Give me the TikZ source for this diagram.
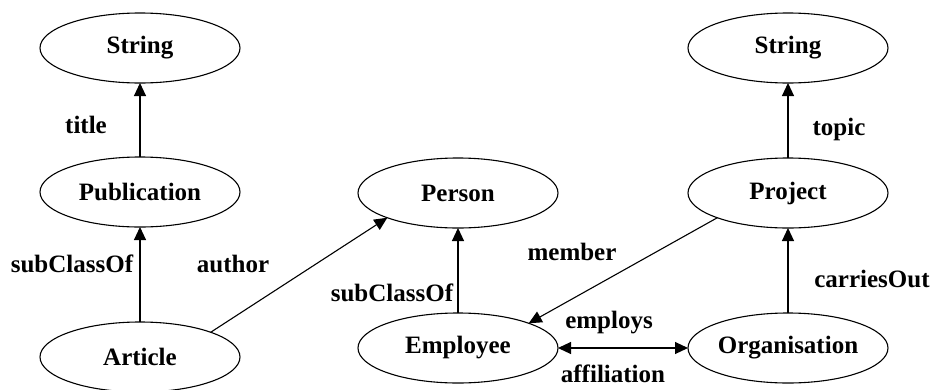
\documentclass[tikz,border=0pt]{standalone}
\usepackage{fontspec}
\setmainfont{Liberation Serif}
\usetikzlibrary{arrows.meta,shapes.geometric}
\begin{document}
\begin{tikzpicture}[x=1pt,y=-1pt,
  cls/.style={ellipse,draw,line width=1.1pt,minimum width=200pt,minimum height=70pt,
    inner sep=0pt,outer sep=0pt,font=\fontsize{25}{29}\selectfont\bfseries},
  lbl/.style={font=\fontsize{25}{29}\selectfont\bfseries,inner sep=0pt,anchor=base},
  rel/.style={line width=1.1pt,-{Triangle[length=13pt,width=12pt]}},
  birel/.style={line width=1.1pt,{Triangle[length=13pt,width=12pt]}-{Triangle[length=13pt,width=12pt]}}]
\useasboundingbox[fill=white] (0,0) rectangle (935,389);

% classes
\node[cls] (str1) at (140,48) {String};
\node[cls] (pub) at (140,192) {Publication};
\node[cls] (art) at (140,357) {Article};
\node[cls] (per) at (458,193) {Person};
\node[cls] (emp) at (458,348) {Employee};
\node[cls] (str2) at (788,48) {String};
\node[cls] (prj) at (788,193) {Project};
\node[cls] (org) at (788,348) {Organisation};

% relations
\draw[rel] (pub) -- (str1);
\draw[rel] (art) -- (pub);
\draw[rel] (art.north east) -- (per.south west);
\draw[rel] (emp) -- (per);
\draw[rel] (prj.south west) -- (emp.north east);
\draw[birel] (emp) -- (org);
\draw[rel] (org) -- (prj);
\draw[rel] (prj) -- (str2);

% labels
\node[lbl] (ltitle) at (86,133) {title};
\node[lbl] (lsub1) at (72,272) {subClassOf};
\node[lbl] (lauth) at (233,272) {author};
\node[lbl] (lsub2) at (392,301) {subClassOf};
\node[lbl] (lmem) at (572,260) {member};
\node[lbl] (lemp) at (609,328) {employs};
\node[lbl] (laff) at (613,382) {affiliation};
\node[lbl] (lcar) at (872,287) {carriesOut};
\node[lbl] (ltop) at (839,135) {topic};
\end{tikzpicture}
\end{document}
